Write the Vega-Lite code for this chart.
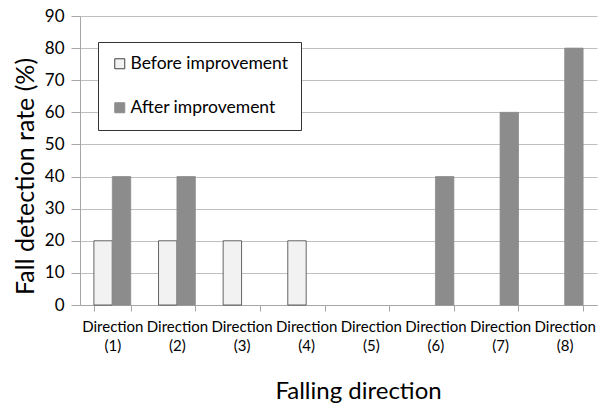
{
  "$schema": "https://vega.github.io/schema/vega-lite/v6.json",
  "autosize": {"type": "none"},
  "width": 517,
  "height": 289,
  "padding": {"left": 80, "top": 16, "right": 2, "bottom": 99},
  "background": "white",
  "config": {
    "font": "Lato",
    "view": {"stroke": null}
  },
  "data": {
    "values": [
      {"direction": "Direction (1)", "series": "Before improvement", "rate": 20},
      {"direction": "Direction (1)", "series": "After improvement", "rate": 40},
      {"direction": "Direction (2)", "series": "Before improvement", "rate": 20},
      {"direction": "Direction (2)", "series": "After improvement", "rate": 40},
      {"direction": "Direction (3)", "series": "Before improvement", "rate": 20},
      {"direction": "Direction (3)", "series": "After improvement", "rate": 0},
      {"direction": "Direction (4)", "series": "Before improvement", "rate": 20},
      {"direction": "Direction (4)", "series": "After improvement", "rate": 0},
      {"direction": "Direction (5)", "series": "Before improvement", "rate": 0},
      {"direction": "Direction (5)", "series": "After improvement", "rate": 0},
      {"direction": "Direction (6)", "series": "Before improvement", "rate": 0},
      {"direction": "Direction (6)", "series": "After improvement", "rate": 40},
      {"direction": "Direction (7)", "series": "Before improvement", "rate": 0},
      {"direction": "Direction (7)", "series": "After improvement", "rate": 60},
      {"direction": "Direction (8)", "series": "Before improvement", "rate": 0},
      {"direction": "Direction (8)", "series": "After improvement", "rate": 80}
    ]
  },
  "mark": {"type": "bar"},
  "encoding": {
    "x": {
      "field": "direction",
      "type": "nominal",
      "sort": null,
      "scale": {"paddingInner": 0.43, "paddingOuter": 0.215},
      "axis": {
        "title": "Falling direction",
        "titleFontSize": 24,
        "titleFontWeight": "normal",
        "titleColor": "#000",
        "titleX": 278,
        "titleY": 93,
        "titleAlign": "center",
        "titleBaseline": "alphabetic",
        "labelAngle": 0,
        "labelExpr": "split(datum.label, ' ')",
        "labelFontSize": 15,
        "labelColor": "#000",
        "labelLineHeight": 19,
        "labelPadding": 8,
        "domainColor": "#a6a6a6",
        "tickColor": "#a6a6a6",
        "tickBand": "extent",
        "tickSize": 6,
        "grid": false
      }
    },
    "xOffset": {
      "field": "series",
      "type": "nominal",
      "sort": ["Before improvement", "After improvement"],
      "scale": {"paddingInner": 0}
    },
    "y": {
      "field": "rate",
      "type": "quantitative",
      "scale": {"domain": [0, 90]},
      "axis": {
        "title": "Fall detection rate (%)",
        "titleFontSize": 25,
        "titleFontWeight": "normal",
        "titleColor": "#000",
        "titleAngle": -90,
        "titleX": -55,
        "titleY": 160,
        "titleAlign": "center",
        "titleBaseline": "middle",
        "values": [0, 10, 20, 30, 40, 50, 60, 70, 80, 90],
        "labelFontSize": 17,
        "labelColor": "#000",
        "labelPadding": 7,
        "gridColor": "#bfbfbf",
        "domainColor": "#a6a6a6",
        "tickColor": "#a6a6a6",
        "tickSize": 9
      }
    },
    "fill": {
      "field": "series",
      "type": "nominal",
      "sort": ["Before improvement", "After improvement"],
      "scale": {"range": ["#f2f2f2", "#8c8c8c"]},
      "legend": {
        "title": null,
        "orient": "none",
        "legendX": 18,
        "legendY": 26,
        "direction": "vertical",
        "symbolType": "square",
        "symbolSize": 100,
        "symbolStrokeWidth": 1,
        "labelFontSize": 17.5,
        "labelColor": "#000",
        "labelOffset": 2,
        "rowPadding": 25,
        "padding": 13,
        "strokeColor": "#333",
        "fillColor": "white",
        "labelLimit": 300,
        "encode": {
          "symbols": {
            "update": {
              "stroke": {"signal": "datum.value === 'Before improvement' ? '#404040' : '#8c8c8c'"},
              "strokeWidth": {"value": 1}
            }
          }
        }
      }
    },
    "stroke": {
      "field": "series",
      "type": "nominal",
      "sort": ["Before improvement", "After improvement"],
      "scale": {"range": ["#404040", "#8c8c8c"]},
      "legend": null
    },
    "strokeWidth": {
      "condition": {"test": "datum.rate == 0", "value": 0},
      "value": 0.8
    }
  }
}
